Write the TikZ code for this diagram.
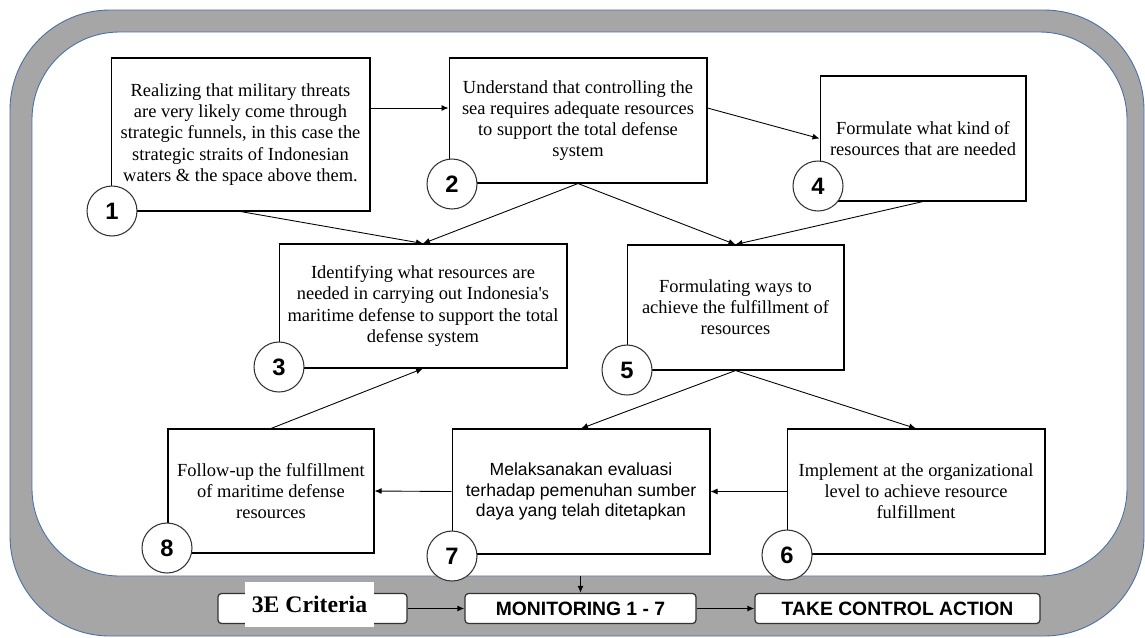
\documentclass[tikz,border=0pt]{standalone}
\usepackage{fontspec}
\setmainfont{Liberation Serif}
\setsansfont{Liberation Sans}
\usetikzlibrary{arrows.meta}

\definecolor{framegray}{HTML}{A6A6A6}
\definecolor{frameblue}{HTML}{4A6EA8}

\begin{document}
\begin{tikzpicture}[x=0.02cm,y=-0.02cm,
        stepbox/.style={draw,fill=white,align=center,inner sep=2pt,line width=0.6pt,
            font=\fontsize{10.5}{12}\selectfont},
        numcirc/.style={draw=black!80,circle,fill=white,minimum size=1cm,inner sep=0pt,
            line width=0.6pt,font=\sffamily\bfseries\fontsize{13.5}{15}\selectfont},
        barbox/.style={draw=black!80,fill=white,rounded corners=2pt,minimum height=0.6cm,
            line width=0.7pt,font=\sffamily\bfseries\fontsize{11}{13}\selectfont},
        arr/.style={-{Latex[length=1.4mm,width=1.2mm]},line width=0.5pt}]

    \useasboundingbox (0,0) rectangle (1145,637);

    % frame
    \draw[frameblue,fill=framegray,line width=0.5pt,rounded corners=2cm] (10,10) rectangle (1144,636);
    \draw[frameblue,fill=white,line width=0.5pt,rounded corners=1.75cm] (32,32) rectangle (1127,576);

    % bottom bar
    \node[barbox,minimum width=3.78cm] (crit) at (312.5,608.5) {};
    \node[fill=white,minimum width=2.58cm,minimum height=0.9cm,inner sep=0pt,
        font=\bfseries\fontsize{13.5}{15}\selectfont] (critlbl) at (309.5,604.5) {3E Criteria};
    \node[barbox,minimum width=4.62cm] (mon) at (580.5,608.5) {MONITORING 1 - 7};
    \node[barbox,minimum width=5.7cm] (act) at (897.5,608.5) {TAKE CONTROL ACTION};
    \coordinate (framebot) at (580.5,576);

    \draw[arr,line width=0.9pt] (crit) -- (mon);
    \draw[arr,line width=0.9pt] (mon) -- (act);
    \draw[arr,line width=0.7pt] (framebot) -- (mon);

    % steps
    \node[stepbox,minimum width=5.18cm,minimum height=3.06cm] (b1) at (240.5,134.5)
        {Realizing that military threats\\are very likely come through\\strategic funnels, in this case the\\strategic straits of Indonesian\\waters \& the space above them.};
    \node[stepbox,minimum width=5.16cm,minimum height=2.5cm] (b2) at (578,120.5)
        {Understand that controlling the\\sea requires adequate resources\\to support the total defense\\system};
    \node[stepbox,minimum width=4.12cm,minimum height=2.5cm] (b4) at (923,138.5)
        {Formulate what kind of\\resources that are needed};
    \node[stepbox,minimum width=5.76cm,minimum height=2.48cm] (b3) at (423,306)
        {Identifying what resources are\\needed in carrying out Indonesia\textquotesingle s\\maritime defense to support the total\\defense system};
    \node[stepbox,minimum width=4.34cm,minimum height=2.5cm] (b5) at (735.5,307.5)
        {Formulating ways to\\achieve the fulfillment of\\resources};
    \node[stepbox,minimum width=4.12cm,minimum height=2.48cm] (b8) at (271,491)
        {Follow-up the fulfillment\\of maritime defense\\resources};
    \node[stepbox,minimum width=5.16cm,minimum height=2.5cm,
        font=\sffamily\fontsize{10}{11.5}\selectfont] (b7) at (581,491.5)
        {Melaksanakan evaluasi\\terhadap pemenuhan sumber\\daya yang telah ditetapkan};
    \node[stepbox,minimum width=5.16cm,minimum height=2.5cm] (b6) at (916,491.5)
        {Implement at the organizational\\level to achieve resource\\fulfillment};

    % connectors
    \draw[arr] ([yshift=0.53cm]b1.east) -- ([yshift=0.53cm]b1.east -| b2.west);
    \draw[arr] ([yshift=0.25cm]b2.east) -- (b4.west);
    \draw[arr] (b1.south) -- (b3.north);
    \draw[arr] (b2.south) -- (b3.north);
    \draw[arr] (b2.south) -- (b5.north);
    \draw[arr] (b4.south) -- (b5.north);
    \draw[arr] (b5.south) -- (b7.north);
    \draw[arr] (b5.south) -- (b6.north);
    \draw[arr] (b6.west) -- (b7.east);
    \draw[arr] (b7.west) -- (b8.east);
    \draw[arr] (b8.north) -- (b3.south);

    % step numbers
    \node[numcirc] (n1) at (112,211) {1};
    \node[numcirc] (n2) at (452,184) {2};
    \node[numcirc] (n3) at (279,367) {3};
    \node[numcirc] (n4) at (818,186) {4};
    \node[numcirc] (n5) at (627,370) {5};
    \node[numcirc] (n6) at (787,555) {6};
    \node[numcirc] (n7) at (452,556) {7};
    \node[numcirc] (n8) at (167,548) {8};
\end{tikzpicture}
\end{document}
